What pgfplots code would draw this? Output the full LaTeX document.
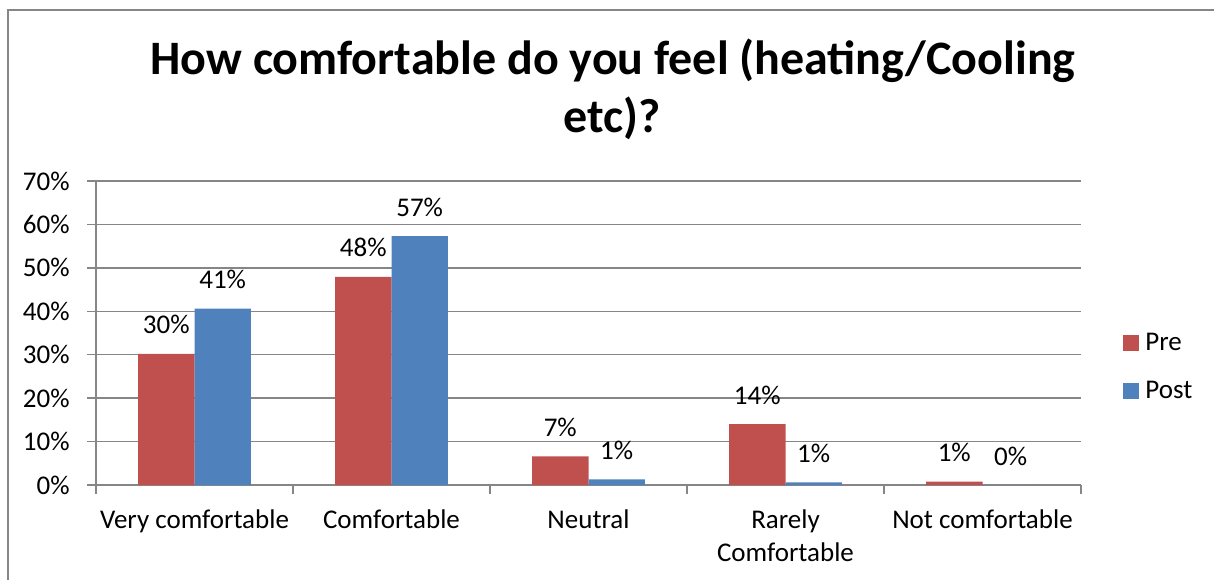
\documentclass[border=0pt]{standalone}
\usepackage{pgfplots}
\pgfplotsset{compat=1.18}
\usepackage{pgfplotstable}
\usepackage{fontspec}
\setmainfont{Carlito}

\definecolor{preRed}{HTML}{C0504D}
\definecolor{postBlue}{HTML}{4F81BD}
\definecolor{lineGray}{HTML}{868686}

% share of answers per category, in percent
\pgfplotstableread{
idx pre  post
0   30.2 40.6
1   47.9 57.3
2   6.6  1.3
3   14.0 0.6
4   0.8  0.0
}\comfort

\begin{document}
\begin{tikzpicture}[x=0.5pt,y=0.5pt]
\useasboundingbox (0,0) rectangle (1214,579);
% chart area border (left and top edges)
\draw[lineGray, line width=1pt] (8,-20) -- (8,569) -- (1240,569);
% title
\node[anchor=base, inner sep=0pt, font=\bfseries\fontsize{24}{29}\selectfont] at (613,504) {How comfortable do you feel (heating/Cooling};
\node[anchor=base, inner sep=0pt, font=\bfseries\fontsize{24}{29}\selectfont] at (612,446) {etc)?};
\begin{axis}[
  at={(48pt,47pt)}, anchor=south west,
  scale only axis, width=492.5pt, height=152pt,
  ybar=0pt, bar width=28.2pt,
  xmin=-0.5, xmax=4.5, ymin=0, ymax=70,
  axis x line*=bottom, axis y line*=left,
  axis line style={lineGray, line width=0.75pt},
  xtick={0,...,4},
  xticklabels={Very comfortable,Comfortable,Neutral,{Rarely\\Comfortable},Not comfortable},
  minor xtick={-0.5,0.5,...,4.5},
  major x tick style={draw=none},
  tick align=outside, major tick length=4.5pt, minor tick length=4.5pt,
  tick style={lineGray, line width=0.75pt},
  ytick={0,10,...,70},
  yticklabel={\pgfmathprintnumber{\tick}\%},
  ymajorgrids, grid style={lineGray, line width=0.75pt},
  /pgf/number format/assume math mode=true,
  ticklabel style={font=\fontsize{13.5}{16.5}\selectfont, inner sep=0pt},
  xticklabel style={align=center, anchor=north, yshift=-7.6pt},
  yticklabel style={anchor=east, xshift=-8.5pt},
  nodes near coords={\pgfmathprintnumber[fixed,precision=0]{\pgfplotspointmeta}\%},
  every node near coord/.append style={font=\fontsize{13.5}{16.5}\selectfont, anchor=base, inner sep=0pt, yshift=10pt},
  clip=false,
  legend image code/.code={\fill[#1] (0pt,-3.5pt) rectangle (8pt,4.5pt);},
  legend style={at={(1.0426,0.386)}, anchor=west, draw=none, fill=none,
    inner sep=0pt, row sep=14pt, column sep=3pt,
    font=\fontsize{13.5}{16.5}\selectfont, nodes={inner sep=0pt}},
  legend cell align=left,
]
\addplot[fill=preRed, draw=none] table[x=idx, y=pre] {\comfort};
\addplot[fill=postBlue, draw=none] table[x=idx, y=post] {\comfort};
\legend{Pre, Post}
\end{axis}
\end{tikzpicture}
\end{document}
